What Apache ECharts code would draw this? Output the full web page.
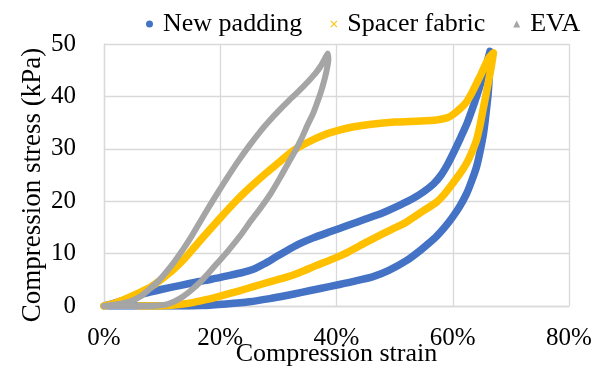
<!DOCTYPE html>
<html>
<head>
<meta charset="utf-8">
<script src="https://cdn.jsdelivr.net/npm/echarts@6/dist/echarts.min.js"></script>
<style>
  html, body { margin: 0; padding: 0; background: #fff; }
  #chart { width: 601px; height: 369px; }
</style>
</head>
<body>
<div id="chart"></div>
<script>
// Compression–stress hysteresis loops (loading then unloading), strain in %, stress in kPa
const seriesNames = ['New padding', 'Spacer fabric', 'EVA'];

const newPaddingStrain = [0, 1, 2.5, 4.5, 7, 10, 13, 16, 18.5, 21, 23.5, 25.7, 27.5, 29.5, 31.5, 33.5, 36, 39, 42, 45, 48, 51, 53, 55, 56.7, 58, 59.2, 60.2, 61.3, 62.4, 63.3, 64.1, 64.9, 65.6, 66.1, 66.4,
  66.3, 66.1, 65.7, 65.3, 64.7, 64.1, 63.3, 62.4, 61.2, 60, 58.6, 57.2, 55.8, 54.4, 52.1, 49, 46.3, 43, 40.5, 37, 34, 31.4, 28.5, 25, 21, 17, 12, 6, 0.5];
const newPaddingStress = [0, 0.3, 0.8, 1.4, 2.4, 3.2, 3.9, 4.6, 5.1, 5.7, 6.3, 7.0, 8.0, 9.3, 10.6, 11.8, 13.0, 14.2, 15.4, 16.6, 17.8, 19.3, 20.4, 21.8, 23.3, 25, 27.2, 29.4, 32, 34.7, 37.4, 40, 42.8, 45.3, 47.3, 48.6,
  44.5, 40.6, 36.5, 33, 29.5, 26.6, 24, 21.5, 19, 17, 15, 13.3, 11.9, 10.6, 8.7, 6.8, 5.6, 4.7, 4.1, 3.3, 2.6, 2.0, 1.4, 0.8, 0.4, 0.1, 0, 0, 0];

const spacerStrain = [0, 1.5, 4, 6, 8, 10, 12, 14, 16, 18, 20, 22.5, 25, 27.5, 30, 32.5, 35, 37.5, 40, 43, 46, 50, 54.4, 57.2, 59, 60, 61.2, 62.4, 63.3, 64.1, 64.9, 65.6, 66.3, 67,
  66.6, 66.2, 65.7, 65.2, 64.7, 64.1, 63.3, 62.4, 61.2, 60, 58.6, 57.2, 55, 52, 50, 48, 45, 42, 39.4, 36.5, 33.7, 31.4, 28.5, 25.7, 23, 20, 17.5, 15, 12, 9, 6];
const spacerStress = [0, 0.4, 1.5, 2.5, 3.6, 5.2, 7, 9.2, 11.8, 14.3, 16.8, 19.8, 22.5, 25, 27.3, 29.6, 31.2, 32.5, 33.4, 34.2, 34.7, 35.1, 35.3, 35.5, 35.9, 36.5, 37.6, 39, 40.7, 42.5, 44.3, 46, 47.5, 48.3,
  45.5, 43.2, 40.2, 37.4, 34.5, 31.7, 29.4, 27.3, 25.2, 23.4, 21.4, 19.8, 18.2, 16, 14.9, 13.8, 12.1, 10.3, 9.0, 7.7, 6.4, 5.5, 4.6, 3.7, 2.8, 1.9, 1.2, 0.6, 0.2, 0, 0];

const evaStrain = [0, 2, 3.5, 5, 6.5, 7.9, 9.4, 10.8, 12.2, 13.6, 15, 16.5, 18, 19.5, 21.1, 23, 25, 26.8, 28.5, 30, 31.8, 33.5, 35, 36.3, 37.3, 38, 38.5,
  38.6, 38.4, 38, 37.5, 36.9, 36, 35, 34, 33, 31.8, 30.3, 28.7, 27, 25.3, 23.5, 21.1, 19.5, 18, 16.5, 15, 13.6, 12.2, 10.8, 9, 7, 4, 1];
const evaStress = [0, 0.3, 0.6, 1.1, 2.0, 3.3, 4.8, 6.6, 8.6, 10.8, 13.2, 16, 18.8, 21.5, 24.3, 27.5, 30.6, 33.2, 35.4, 37.2, 39.2, 41, 42.7, 44.3, 45.8, 47.2, 48.2,
  47, 45.5, 43.5, 41.5, 39.5, 36.8, 34.5, 32, 29.8, 27.5, 24.5, 21.5, 18.8, 16.3, 13.5, 10.2, 8.2, 6.3, 4.5, 3, 1.8, 0.9, 0.3, 0.05, 0, 0, 0];

const strainTicks = { min: 0, max: 80, step: 20 };
const stressTicks = { min: 0, max: 50, step: 10 };

const colors = ['#4472C4', '#FFC000', '#A5A5A5'];
const crossIcon = 'path://M0,1L1,0L5,4L9,0L10,1L6,5L10,9L9,10L5,6L1,10L0,9L4,5Z';
const icons = ['circle', crossIcon, 'triangle'];
const widths = [7.5, 7.5, 6];

const font = '"Liberation Serif", "Times New Roman", serif';
const pairs = (xs, ys) => xs.map((x, i) => [x, ys[i]]);
const datasets = [
  pairs(newPaddingStrain, newPaddingStress),
  pairs(spacerStrain, spacerStress),
  pairs(evaStrain, evaStress)
];

const chart = echarts.init(document.getElementById('chart'), null, { renderer: 'canvas' });
chart.setOption({
  animation: false,
  backgroundColor: '#fff',
  color: colors,
  legend: {
    left: 141,
    top: 6,
    itemWidth: 7,
    itemHeight: 7,
    itemGap: 28,
    textStyle: { fontFamily: font, fontSize: 26, color: '#000', padding: [0, 0, 0, 5] },
    data: seriesNames.map((n, i) => ({ name: n, icon: icons[i] }))
  },
  grid: { left: 104, right: 32, top: 44, bottom: 63, outerBoundsMode: 'none', containLabel: false },
  xAxis: {
    type: 'value',
    min: strainTicks.min, max: strainTicks.max, interval: strainTicks.step,
    name: 'Compression strain',
    nameLocation: 'middle',
    nameGap: 35,
    nameMoveOverlap: false,
    nameTextStyle: { fontFamily: font, fontSize: 26, color: '#000' },
    axisLine: { show: true, lineStyle: { color: '#d9d9d9', width: 1.3 } },
    axisTick: { show: false },
    axisLabel: { formatter: '{value}%', fontFamily: font, fontSize: 25, color: '#000', margin: 20 },
    splitLine: { show: true, lineStyle: { color: '#d9d9d9', width: 1.3 } }
  },
  yAxis: {
    type: 'value',
    min: stressTicks.min, max: stressTicks.max, interval: stressTicks.step,
    name: 'Compression stress (kPa)',
    nameLocation: 'middle',
    nameRotate: 90,
    nameGap: 58,
    nameMoveOverlap: false,
    nameTextStyle: { fontFamily: font, fontSize: 27, color: '#000', padding: [0, 20, 0, 0] },
    axisLine: { show: true, lineStyle: { color: '#d9d9d9', width: 1.3 } },
    axisTick: { show: false },
    axisLabel: { fontFamily: font, fontSize: 25, color: '#000', margin: 28 },
    splitLine: { show: true, lineStyle: { color: '#d9d9d9', width: 1.3 } }
  },
  series: seriesNames.map((n, i) => ({
    name: n,
    type: 'line',
    data: datasets[i],
    symbol: icons[i],
    showSymbol: false,
    smooth: 0.2,
    lineStyle: { color: colors[i], width: widths[i], cap: 'round', join: 'round' },
    itemStyle: { color: colors[i] }
  }))
});
</script>
</body>
</html>
